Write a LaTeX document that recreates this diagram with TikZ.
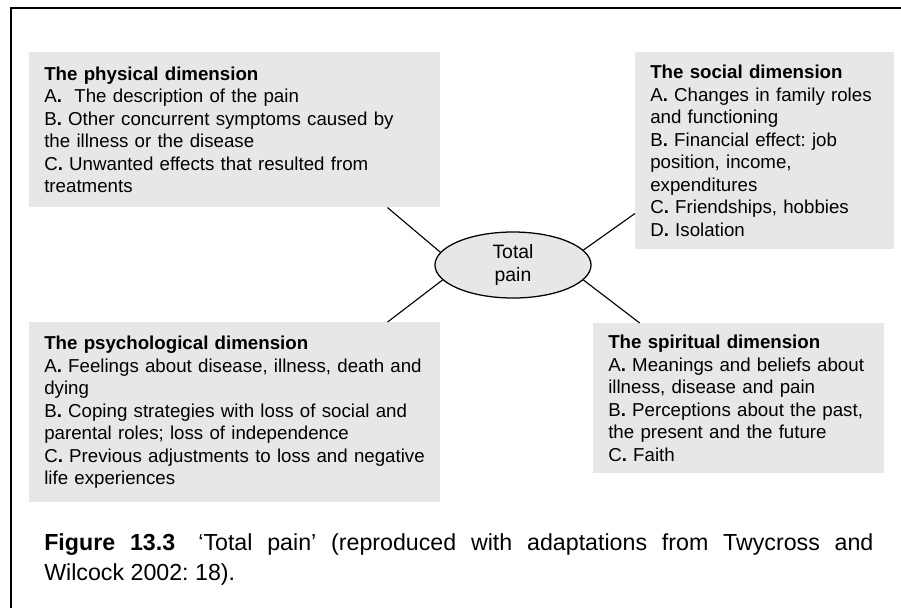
\documentclass[tikz,border=0pt]{standalone}
\usepackage{fontspec}
\setmainfont{Liberation Sans}
\usepackage{xcolor}
\usetikzlibrary{shapes.geometric,calc}
\frenchspacing

\definecolor{boxgrey}{HTML}{E6E7E8}
\newcommand{\lbl}[1]{#1\textbf{.}}

\tikzset{
    dimbox/.style={fill=boxgrey, anchor=north west, align=left, inner xsep=0.375cm, inner ysep=0pt,
        font=\fontsize{13.3}{16}\selectfont},
    hub/.style={ellipse, draw, line width=0.9pt, fill=boxgrey, minimum width=3.9cm, minimum height=1.65cm,
        inner sep=0pt, align=center, font=\fontsize{13.8}{16.8}\selectfont},
    spoke/.style={line width=0.8pt},
}

\begin{document}
\begin{tikzpicture}[x=0.025cm, y=-0.025cm]
    \useasboundingbox (0,0) rectangle (901,608);

    % Rahmen
    \draw[line width=0.8pt] (901,8) -- (11,8) -- (11,608);

    % Dimensionen
    \node[dimbox, text width=9.525cm, minimum height=3.875cm] (phys) at (29,52)
        {\textbf{The physical dimension}\\
         \lbl{A}~ The description of the pain\\
         \lbl{B} Other concurrent symptoms caused by\\
         the illness or the disease\\
         \lbl{C} Unwanted effects that resulted from\\
         treatments};

    \node[dimbox, text width=5.725cm, minimum height=4.925cm] (social) at (635,52)
        {\textbf{The social dimension}\\
         \lbl{A} Changes in family roles\\
         and functioning\\
         \lbl{B} Financial effect: job\\
         position, income,\\
         expenditures\\
         \lbl{C} Friendships, hobbies\\
         \lbl{D} Isolation};

    \node[dimbox, text width=9.525cm, minimum height=4.5cm] (psych) at (29,322)
        {\textbf{The psychological dimension}\\
         \lbl{A} Feelings about disease, illness, death and\\
         dying\\
         \lbl{B} Coping strategies with loss of social and\\
         parental roles; loss of independence\\
         \lbl{C} Previous adjustments to loss and negative\\
         life experiences};

    \node[dimbox, text width=6.525cm, minimum height=3.75cm] (spirit) at (593,323)
        {\textbf{The spiritual dimension}\\
         \lbl{A} Meanings and beliefs about\\
         illness, disease and pain\\
         \lbl{B} Perceptions about the past,\\
         the present and the future\\
         \lbl{C} Faith};

    % Mitte
    \node[hub] (core) at (513,265) {Total\\pain};

    % Speichen
    \draw[spoke] (core.170) -- ($(phys.south west)!0.871!(phys.south east)$);
    \draw[spoke] (core.12) -- ($(social.north west)!0.817!(social.south west)$);
    \draw[spoke] (core.192) -- ($(psych.north west)!0.871!(psych.north east)$);
    \draw[spoke] (core.348) -- ($(spirit.north west)!0.16!(spirit.north east)$);

    % Bildunterschrift
    \node[anchor=base west, inner sep=0pt, text width=20.725cm, align=justify,
          font=\fontsize{16.5}{21.5}\selectfont] (caption) at (44,550)
        {\textbf{Figure 13.3}\quad ‘Total pain’ (reproduced with adaptations from Twycross and\linebreak
         Wilcock 2002: 18).};
\end{tikzpicture}
\end{document}
